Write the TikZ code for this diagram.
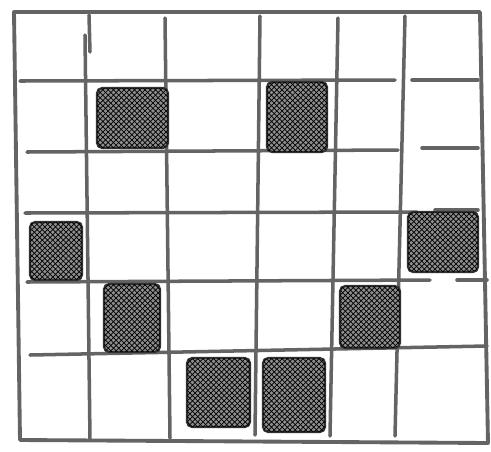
\documentclass[tikz,border=0pt]{standalone}
\usetikzlibrary{patterns}
\definecolor{pencilcolor}{RGB}{100, 100, 100}
\definecolor{scribblecolor}{RGB}{50, 50, 50}
\tikzset{
gridline/.style={
  draw=pencilcolor,
  line width=2pt,
  line cap=round
},
borderline/.style={
  gridline,
  line width=2.2pt,
  line join=round
},
scribble/.style={
  fill=scribblecolor!55,
  draw=scribblecolor,
  line width=1.3pt,
  rounded corners=3pt,
  postaction={pattern=crosshatch, pattern color=black}
}
}

\begin{document}
\begin{tikzpicture}[x=0.02cm, y=-0.02cm]
  \useasboundingbox (0,0) rectangle (491,451);
  \draw[borderline] (14,12) -- (480,12) -- (488,443) -- (20,440) -- cycle;

  \foreach \xa/\ya/\xb/\yb in {85/35/90/440, 89/15/90/52, 165/18/170/438,
      260/16/255/435, 338/18/330/436, 405/16/395/436}
    \draw[gridline] (\xa,\ya) -- (\xb,\yb);

  \foreach \xa/\ya/\xb/\yb in {20/81/395/80, 412/80/478/80,
      27/152/398/150, 422/148/478/148,
      25/213/417/212, 435/210/478/210,
      27/282/430/280, 457/280/487/280,
      30/355/487/346}
    \draw[gridline] (\xa,\ya) -- (\xb,\yb);

  \foreach \xa/\ya/\xb/\yb in {97/88/168/148, 267/82/327/152,
      30/222/82/280, 408/212/478/272,
      104/284/160/352, 340/286/400/348,
      187/358/250/427, 263/358/325/432}
    \draw[scribble] (\xa,\ya) rectangle (\xb,\yb);
\end{tikzpicture}
\end{document}
